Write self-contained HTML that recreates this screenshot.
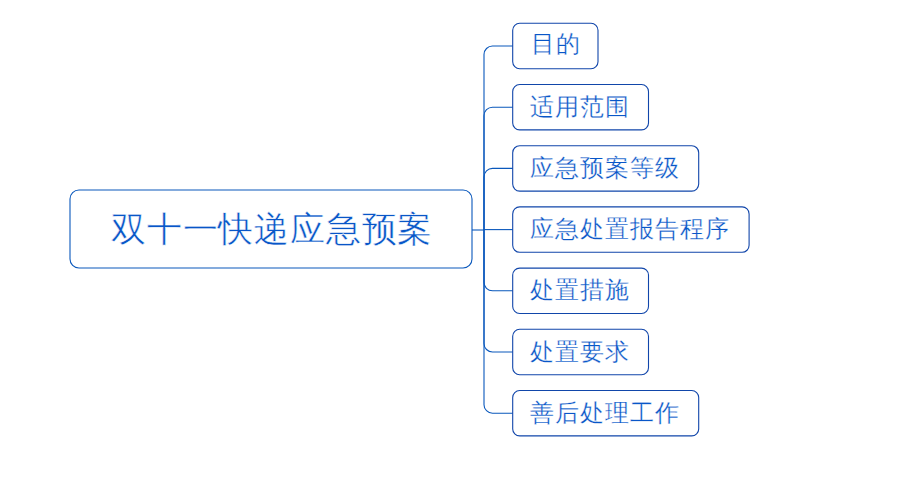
<!DOCTYPE html>
<html><head><meta charset="utf-8">
<style>
html,body{margin:0;padding:0;background:#fff;}
body{width:915px;height:479px;position:relative;overflow:hidden;}
.t{position:absolute;white-space:nowrap;color:#0856c8;font-family:"Liberation Sans",sans-serif;-webkit-text-stroke:0.3px #fff;}
.s{font-size:24px;line-height:24px;letter-spacing:1.0px;}
.m{font-size:35px;line-height:35px;letter-spacing:0.8px;}
svg{position:absolute;left:0;top:0;}
</style></head><body>
<svg width="915" height="479" viewBox="0 0 915 479">
<g fill="none" stroke-width="1.1">
<g stroke="#0a58bc">
<path d="M472 230.00 H484.0"/>
<path d="M484.0 230.00 V54.50 A8.5 8.5 0 0 1 492.5 46.00 H512.7"/>
<path d="M484.0 230.00 V115.70 A8.5 8.5 0 0 1 492.5 107.20 H512.7"/>
<path d="M484.0 230.00 V176.90 A8.5 8.5 0 0 1 492.5 168.40 H512.7"/>
<path d="M484.0 229.60 H512.7"/>
<path d="M484.0 230.00 V282.30 A8.5 8.5 0 0 0 492.5 290.80 H512.7"/>
<path d="M484.0 230.00 V343.50 A8.5 8.5 0 0 0 492.5 352.00 H512.7"/>
<path d="M484.0 230.00 V404.70 A8.5 8.5 0 0 0 492.5 413.20 H512.7"/>
</g>
<rect x="70" y="190" width="402" height="78" rx="9" ry="9" stroke="#0a58bc"/>
<g stroke="#1146aa">
<rect x="512.7" y="23.30" width="85.30" height="45.4" rx="7" ry="7"/>
<rect x="512.7" y="84.50" width="135.80" height="45.4" rx="7" ry="7"/>
<rect x="512.7" y="145.70" width="186.00" height="45.4" rx="7" ry="7"/>
<rect x="512.7" y="206.90" width="236.40" height="45.4" rx="7" ry="7"/>
<rect x="512.7" y="268.10" width="135.80" height="45.4" rx="7" ry="7"/>
<rect x="512.7" y="329.30" width="135.80" height="45.4" rx="7" ry="7"/>
<rect x="512.7" y="390.50" width="186.00" height="45.4" rx="7" ry="7"/>
</g>
</g>
</svg>
<div class="t m" style="left:111px;top:211px;-webkit-text-stroke:0.5px #fff;">双十一快递应急预案</div>
<div class="t s" style="left:531px;top:32.0px;">目的</div>
<div class="t s" style="left:530px;top:94.7px;">适用范围</div>
<div class="t s" style="left:530px;top:155.9px;">应急预案等级</div>
<div class="t s" style="left:530px;top:217.1px;">应急处置报告程序</div>
<div class="t s" style="left:530px;top:278.3px;">处置措施</div>
<div class="t s" style="left:530px;top:339.5px;">处置要求</div>
<div class="t s" style="left:530px;top:400.7px;">善后处理工作</div>
</body></html>
